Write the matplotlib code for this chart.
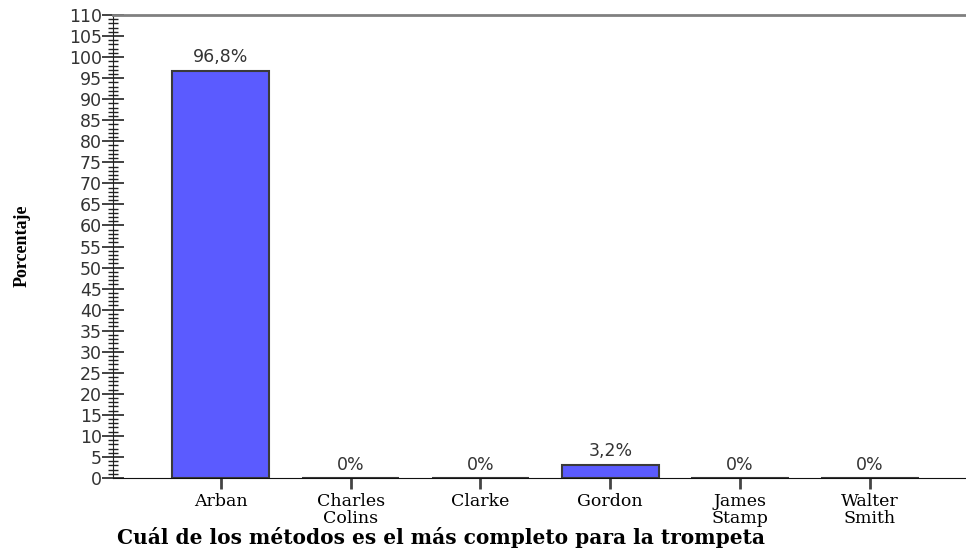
import matplotlib
matplotlib.use("Agg")
import matplotlib.pyplot as plt
from matplotlib.ticker import MultipleLocator

methods = ["Arban", "Charles\nColins", "Clarke", "Gordon", "James\nStamp", "Walter\nSmith"]
percent = [96.8, 0.0, 0.0, 3.2, 0.0, 0.0]


def pct_label(v):
    # SPSS style: comma decimal, no decimals for zero
    if v == 0:
        return "0%"
    return f"{v:.1f}".replace(".", ",") + "%"


fig = plt.figure(figsize=(9.66, 5.51), dpi=100)
ax = fig.add_axes([113 / 966, 1 - 478 / 551, 1 - 113 / 966, (478 - 15) / 551])

pos = list(range(len(methods)))
bars = ax.bar(pos, percent, width=0.75, color="#5b5bff", edgecolor="#3a3a3a", linewidth=1.5)
ax.bar_label(bars, labels=[pct_label(v) for v in percent], padding=3,
             fontsize=12.5, color="#333333", family="DejaVu Sans")

ax.set_xlim(-0.83, 5.74)
ax.set_ylim(0, 110)

ax.yaxis.set_major_locator(MultipleLocator(5))
ax.yaxis.set_minor_locator(MultipleLocator(1))
ax.tick_params(axis="y", which="major", direction="inout", length=16, width=1.2,
               labelsize=12.5, pad=0, colors="#222222")
ax.tick_params(axis="y", which="minor", direction="inout", length=7, width=1.0, color="#222222")
for lbl in ax.get_yticklabels():
    lbl.set_family("DejaVu Sans")
    lbl.set_color("#333333")

ax.set_xticks(pos)
ax.set_xticklabels(methods, family="DejaVu Serif", fontsize=12.5, linespacing=1.0)
ax.tick_params(axis="x", direction="out", length=8, width=2, color="#444444", pad=3)

ax.spines["right"].set_visible(False)
ax.spines["top"].set_color("#808080")
ax.spines["top"].set_linewidth(2)
ax.spines["left"].set_color("#222222")
ax.spines["bottom"].set_color("#111111")

fig.text(441 / 966, 1 - 538 / 551, "Cuál de los métodos es el más completo para la trompeta",
         ha="center", va="center", fontsize=14.5, fontweight="bold", family="DejaVu Serif")
fig.text(22 / 966, 1 - 246 / 551, "Porcentaje", rotation=90, ha="center", va="center",
         fontsize=13, fontweight="bold", family="Liberation Serif")

fig.savefig("out.png", dpi=100)
